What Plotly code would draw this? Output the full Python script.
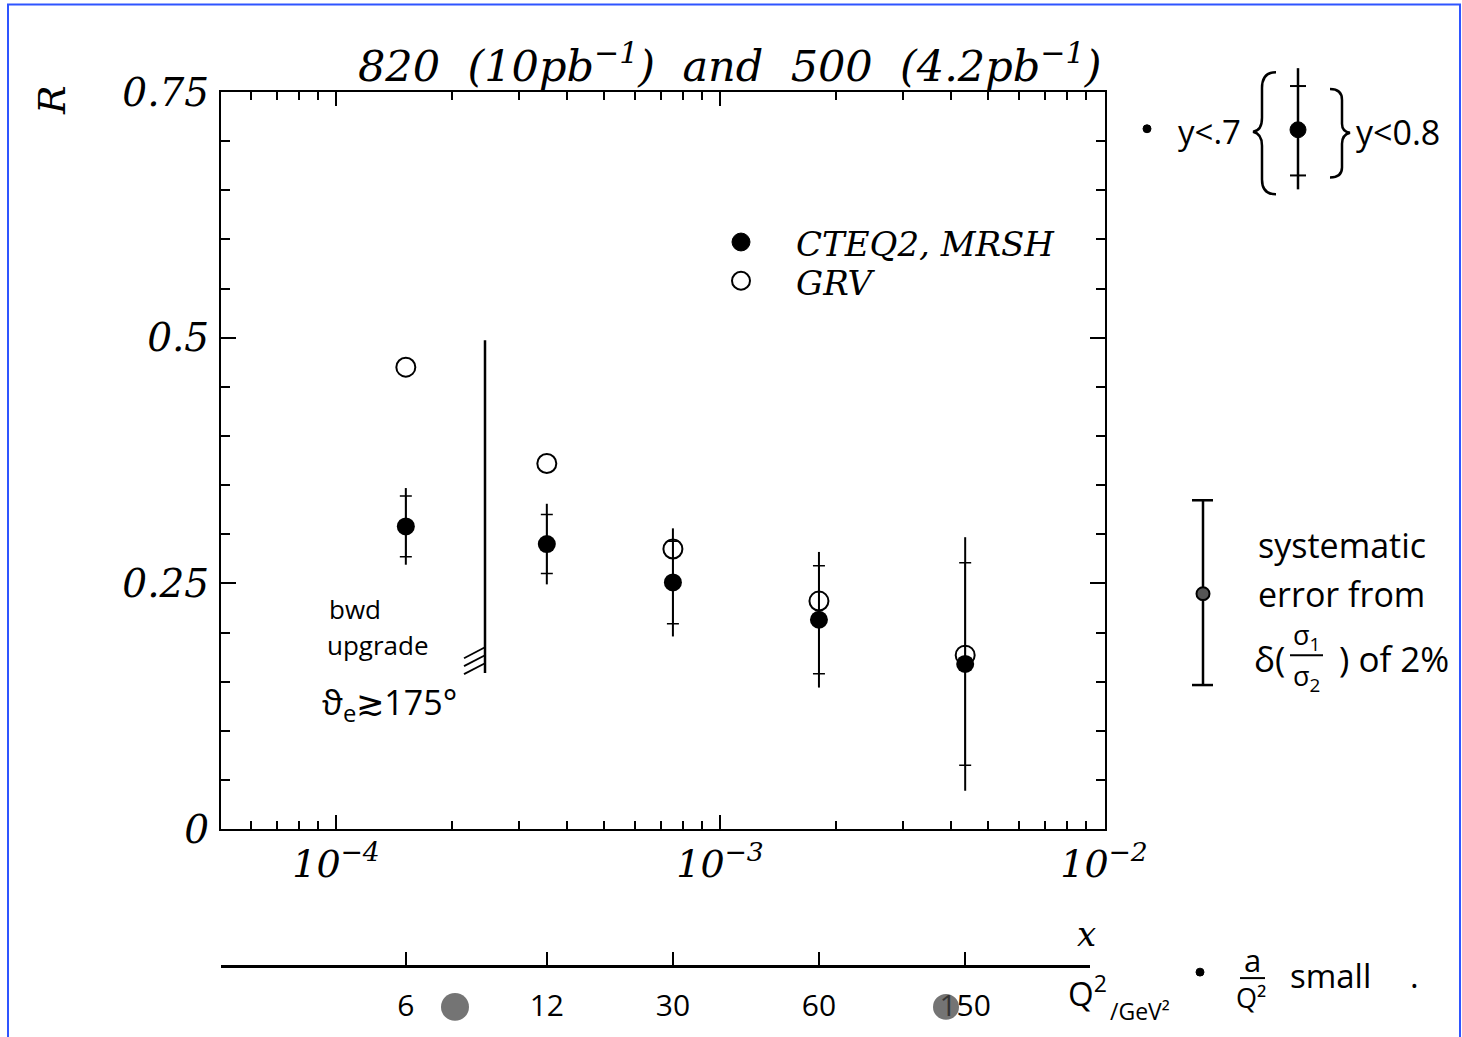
import math
import plotly.graph_objects as go

# ---------------- data ----------------
x_vals = [1.52e-4, 3.54e-4, 7.54e-4, 1.81e-3, 4.35e-3]
r_cteq_mrsh = [0.308, 0.290, 0.251, 0.213, 0.168]
r_grv = [0.470, 0.372, 0.285, 0.232, 0.177]
err_y07 = [0.039, 0.041, 0.055, 0.069, 0.129]   # outer bar  (y < .7)
err_y08 = [0.031, 0.030, 0.042, 0.055, 0.103]   # inner ticks (y < 0.8)
q2_labels = ["6", "12", "30", "60", "150"]
x_major_vals = [1e-4, 1e-3, 1e-2]
x_major_text = ["10<sup>−4</sup>", "10<sup>−3</sup>", "10<sup>−2</sup>"]
y_major_vals = [0, 0.25, 0.5, 0.75]
y_major_text = ["0", "0.25", "0.5", "0.75"]
series_names = ["CTEQ2, MRSH", "GRV"]

# ---------------- geometry ----------------
W, H = 1462, 1037
ML, MR, MT, MB = 221, 357, 92, 40
PW, PH = W - ML - MR, H - MT - MB
DEC = 384.0                       # pixels per decade
XLO = -4 - (336 - ML) / DEC
XHI = XLO + PW / DEC


def px(X):
    return (X - ML) / PW


def py(Y):
    return (H - MB - Y) / PH


SERIF = "DejaVu Serif"
HAND = "Open Sans"
BLK = "black"
NB = "\u00a0"

x_minor = [m * 10.0 ** e for e in (-5, -4, -3) for m in range(2, 10)]
x_minor = [v for v in x_minor if XLO <= math.log10(v) <= XHI]
y_minor = [i * 0.05 for i in range(16) if i % 5 != 0]

fig = go.Figure()

fig.add_trace(go.Scatter(
    x=x_vals, y=r_grv, mode="markers", name=series_names[1], showlegend=False,
    marker=dict(symbol="circle-open", size=19, color=BLK, line=dict(width=2, color=BLK)),
))
fig.add_trace(go.Scatter(
    x=x_vals, y=r_cteq_mrsh, mode="markers", showlegend=False, hoverinfo="skip",
    marker=dict(size=2, color="rgba(0,0,0,0)"),
    error_y=dict(type="data", array=err_y08, width=6, thickness=1.5, color=BLK),
))
fig.add_trace(go.Scatter(
    x=x_vals, y=r_cteq_mrsh, mode="markers", name=series_names[0], showlegend=False,
    marker=dict(symbol="circle", size=18, color=BLK),
    error_y=dict(type="data", array=err_y07, width=0, thickness=2, color=BLK),
))
# Q^2 scale (secondary axis carrying the same x positions)
fig.add_trace(go.Scatter(
    x=x_vals, y=[None] * len(x_vals), xaxis="x2", yaxis="y",
    mode="markers", showlegend=False, hoverinfo="skip",
))

fig.update_layout(
    width=W, height=H,
    margin=dict(l=ML, r=MR, t=MT, b=MB),
    paper_bgcolor="white", plot_bgcolor="rgba(0,0,0,0)",
    showlegend=False,
    xaxis=dict(
        type="log", range=[XLO, XHI], anchor="y",
        showline=True, linecolor=BLK, linewidth=2, mirror="ticks",
        showgrid=False, zeroline=False,
        ticks="inside", ticklen=14, tickwidth=1.5, tickcolor=BLK,
        tickmode="array", tickvals=x_major_vals, ticktext=x_major_text,
        tickfont=dict(family=SERIF, size=38, color=BLK, style="italic"),
        ticklabelstandoff=0,
        minor=dict(ticks="inside", ticklen=8, tickwidth=1.5, tickcolor=BLK,
                   tickmode="array", tickvals=x_minor, showgrid=False),
    ),
    xaxis2=dict(
        type="log", domain=[0, px(1090)],
        range=[XLO, XLO + (1090 - ML) / DEC],
        anchor="free", position=py(972),
        showline=True, linecolor=BLK, linewidth=2.5,
        showgrid=False, zeroline=False,
        ticks="inside", ticklen=13, tickwidth=2, tickcolor=BLK,
        tickmode="array", tickvals=x_vals, ticktext=q2_labels,
        tickfont=dict(family=HAND, size=30, color=BLK),
        ticklabelstandoff=12,
    ),
    yaxis=dict(
        range=[0, 0.75], domain=[py(834), 1],
        showline=True, linecolor=BLK, linewidth=2, mirror="ticks",
        showgrid=False, zeroline=False,
        ticks="inside", ticklen=15, tickwidth=1.5, tickcolor=BLK,
        tickmode="array", tickvals=y_major_vals, ticktext=y_major_text,
        tickfont=dict(family=SERIF, size=39, color=BLK, style="italic"),
        ticklabelstandoff=2,
        minor=dict(ticks="inside", ticklen=9, tickwidth=1.5, tickcolor=BLK,
                   tickmode="array", tickvals=y_minor, showgrid=False),
    ),
)

ann = []


def text(s, X, Y, size, family=HAND, xanchor="left", italic=False, angle=0):
    f = dict(family=family, size=size, color=BLK)
    if italic:
        f["style"] = "italic"
    ann.append(dict(text=s, x=px(X), y=py(Y), xref="paper", yref="paper",
                    xanchor=xanchor, yanchor="middle", showarrow=False,
                    font=f, textangle=angle))


# printed texts
text(f"820{NB} (10pb<sup>−1</sup>){NB} and{NB} 500{NB} (4.2pb<sup>−1</sup>)", 729, 63, 43,
     family=SERIF, xanchor="center", italic=True)
text("R", 52, 100, 38, family=SERIF, xanchor="center", italic=True, angle=-90)
text("x", 1086, 940, 34, family=SERIF, xanchor="center", italic=True)
text(series_names[0], 794, 245, 34, family=SERIF, italic=True)
text(series_names[1], 794, 284, 34, family=SERIF, italic=True)

# handwritten texts
text("bwd", 327, 612, 26)
text("upgrade", 325, 649, 26)
text("ϑ<sub>e</sub>≳175°", 320, 708, 34)
text("y&lt;.7", 1176, 132, 33)
text("y&lt;0.8", 1354, 132, 34)
text("systematic", 1256, 548, 34)
text("error from", 1256, 597, 34)
text("δ(", 1252, 662, 35)
text("σ<sub>1</sub>", 1306, 640, 27, xanchor="center")
text("σ<sub>2</sub>", 1306, 681, 27, xanchor="center")
text(") of 2%", 1337, 662, 35)
text("Q<sup>2</sup>", 1066, 998, 33)
text("/GeV²", 1108, 1017, 23)
text("a", 1252, 966, 31, xanchor="center")
text("Q²", 1251, 1004, 27, xanchor="center")
text("small", 1288, 981, 33)
text(".", 1408, 981, 33)

fig.update_layout(annotations=ann)

shapes = []


def line(x0, y0, x1, y1, w=2):
    shapes.append(dict(type="line", xref="paper", yref="paper",
                       x0=px(x0), y0=py(y0), x1=px(x1), y1=py(y1),
                       line=dict(color=BLK, width=w)))


def circle(cx, cy, r, fill=BLK, lc=BLK, w=1):
    shapes.append(dict(type="circle", xref="paper", yref="paper",
                       x0=px(cx - r), x1=px(cx + r), y0=py(cy + r), y1=py(cy - r),
                       fillcolor=fill, line=dict(color=lc, width=w)))


def path(pts, w=2):
    s = ""
    for cmd, coords in pts:
        s += cmd
        vals = []
        for i in range(0, len(coords), 2):
            vals.append(f"{px(coords[i]):.5f},{py(coords[i + 1]):.5f}")
        s += " ".join(vals) + " "
    shapes.append(dict(type="path", xref="paper", yref="paper", path=s.strip(),
                       line=dict(color=BLK, width=w)))


# legend keys
circle(741, 243, 9)
circle(741, 282, 9, fill="white", w=2)

# bwd upgrade boundary with hatching
line(485, 342, 485, 677, 2.5)
line(464, 662, 485, 651, 1.8)
line(464, 670, 485, 659, 1.8)
line(464, 678, 485, 667, 1.8)

# key for the two error sizes (top right)
circle(1147, 129, 4)
line(1298, 68, 1298, 190, 2.5)
line(1290, 86, 1306, 86, 2)
line(1290, 176, 1306, 176, 2)
circle(1298, 130, 8)
path([("M", [1276, 72]), ("Q", [1262, 72, 1262, 88]), ("L", [1262, 118]),
      ("Q", [1262, 131, 1253, 132]), ("Q", [1262, 134, 1262, 146]),
      ("L", [1262, 180]), ("Q", [1262, 195, 1276, 195])], 2.5)
path([("M", [1330, 89]), ("Q", [1342, 89, 1342, 100]), ("L", [1342, 124]),
      ("Q", [1342, 132, 1350, 133]), ("Q", [1342, 135, 1342, 144]),
      ("L", [1342, 168]), ("Q", [1342, 178, 1330, 178])], 2.5)

# systematic error bar
line(1203, 503, 1203, 689, 2.5)
line(1192, 503, 1213, 503, 2.5)
line(1192, 689, 1213, 689, 2.5)
circle(1203, 597, 6.5, fill="#555555", lc=BLK, w=2)
line(1290, 659, 1323, 659, 2)

# a / Q^2
circle(1200, 978, 4)
line(1240, 984, 1265, 984, 2)

# scan blobs
circle(455, 1013, 14, fill="rgba(70,70,70,0.75)", lc="rgba(0,0,0,0)", w=0)
circle(946, 1013, 13, fill="rgba(70,70,70,0.75)", lc="rgba(0,0,0,0)", w=0)

# blue frame
shapes.append(dict(type="rect", xref="paper", yref="paper",
                   x0=px(8), x1=px(1460), y0=py(1050), y1=py(4),
                   line=dict(color="#2f55ff", width=2), fillcolor="rgba(0,0,0,0)"))

fig.update_layout(shapes=shapes)

fig.write_html("out.html")
